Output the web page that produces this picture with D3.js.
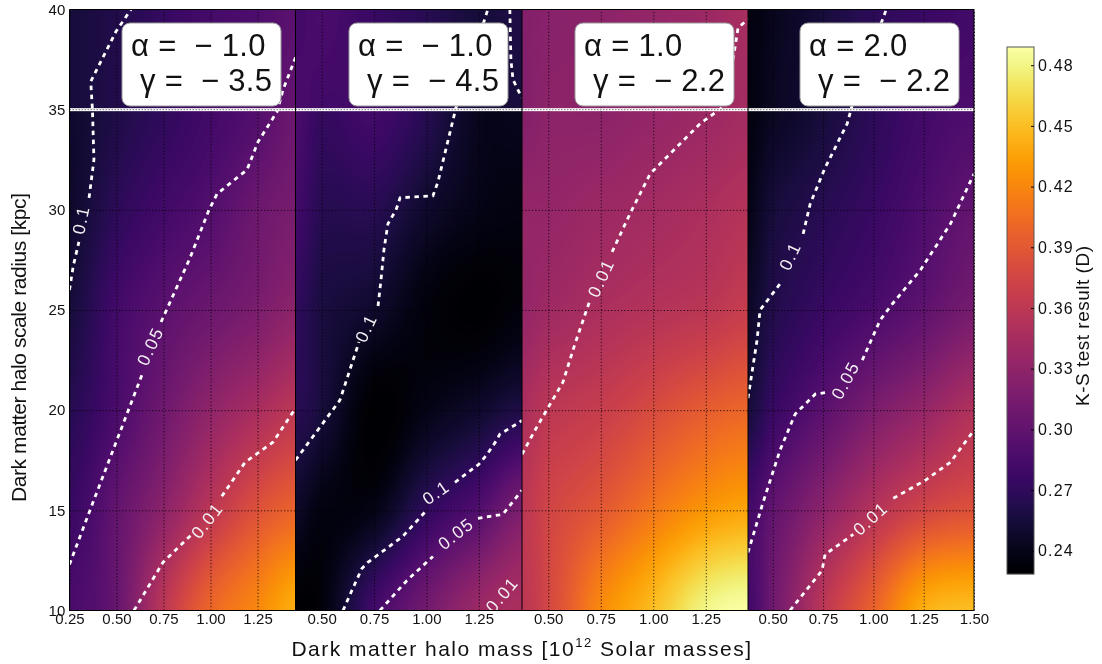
<!DOCTYPE html>
<html><head><meta charset="utf-8">
<script src="https://cdn.jsdelivr.net/npm/d3@7"></script>
<style>
html,body{margin:0;padding:0;background:#fff;overflow:hidden}
#wrap{position:relative;width:1102px;height:664px}
canvas,svg{position:absolute;left:0;top:0}
text{font-family:"Liberation Sans",Arial,sans-serif;fill:#111}
</style></head><body><div id="wrap"><canvas id="c" width="1102" height="664"></canvas><svg id="s" width="1102" height="664"></svg></div>
<script>
const radiusRows=[10,15,20,25,30,35];
const upperRows=[35,40];
const columnsA=[0.25,0.5,0.75,1,1.25,1.45];
const columnsB=[0.375,0.5,0.75,1,1.25,1.45];
const columnsD=[0.377,0.5,0.75,1,1.25,1.5];
const valuesA=[[.286,.304,.359,.400,.421,.442],[.275,.301,.328,.359,.385,.398],[.265,.286,.309,.330,.346,.359],[.255,.281,.296,.307,.317,.328],[.249,.268,.281,.291,.307,.315],[.249,.260,.270,.281,.291,.307]];
const upperA=[[.255,.262,.273,.283,.291,.301],[.255,.262,.273,.283,.288,.296]];
const valuesB=[[.2285,.234,.281,.312,.338,.348],[.247,.236,.239,.270,.291,.317],[.265,.255,.2285,.239,.249,.260],[.270,.257,.249,.234,.2285,.234],[.281,.265,.265,.249,.239,.236],[.286,.273,.281,.265,.242,.242]];
const upperB=[[.286,.281,.281,.268,.255,.255],[.281,.286,.275,.265,.255,.260]];
const valuesC=[[.359,.377,.422,.450,.481,.489],[.359,.374,.390,.411,.429,.437],[.348,.359,.367,.380,.393,.400],[.333,.340,.348,.354,.359,.367],[.333,.333,.338,.343,.348,.354],[.322,.328,.328,.333,.338,.343]];
const upperC=[[.322,.328,.328,.333,.338,.343],[.322,.325,.328,.333,.338,.346]];
const valuesD=[[.281,.310,.359,.398,.442,.450],[.281,.301,.328,.354,.375,.385],[.255,.275,.296,.317,.333,.351],[.247,.262,.275,.286,.299,.314],[.239,.255,.265,.275,.288,.301],[.236,.244,.255,.268,.281,.288]];
const upperD=[[.236,.244,.255,.268,.281,.288],[.236,.242,.255,.268,.275,.281]];
const tickA=[0.25,0.5,0.75,1,1.25];
const tickB=[0.5,0.75,1,1.25];
const tickD=[0.5,0.75,1,1.25,1.5];
const radiusTicks=[10,15,20,25,30,35,40];
const barTicks=[0.24,0.27,0.30,0.33,0.36,0.39,0.42,0.45,0.48];
const linesA=[
 [[.25,26],[.27,27.2],[.30,28.4]],
 [[.354,30.6],[.38,32.5],[.372,35],[.363,36.4],[.497,38.9],[.577,40]],
 [[.25,12.3],[.375,15.4],[.641,21.9]],
 [[.737,24.4],[.891,27.6],[.992,30],[1.035,30.8],[1.194,32],[1.253,33.4],[1.354,34.9],[1.386,36],[1.452,37.6]],
 [[.593,10],[.747,12.4],[.9,13.8]],
 [[1.06,15.7],[1.184,17.4],[1.332,18.4],[1.452,20.1]]];
const linesB=[
 [[.375,17.5],[.587,20.5],[.678,23.4]],
 [[.769,25.2],[.783,26.5],[.797,28],[.816,29.3],[.855,30],[.874,30.6],[1.031,30.7],[1.055,31.4],[1.141,35.1],[1.293,40]],
 [[1.398,40],[1.403,37.5],[1.413,36.5],[1.455,35.6]],
 [[.602,10],[.644,11],[.692,12.1],[.72,12.4],[.887,13.7],[.992,14.9]],
 [[1.136,16.4],[1.25,17.3],[1.29,17.8],[1.335,18.5],[1.35,18.8],[1.445,19.4],[1.456,19.5]],
 [[.778,10],[.907,11.5],[1.031,12.7]],
 [[1.246,14.6],[1.365,14.8],[1.455,16]]];
const linesC=[
 [[.375,17.8],[.437,19],[.57,21.4],[.627,23.3],[.699,25.5]],
 [[.804,27.9],[.889,29.8],[.985,31.8],[1.223,34.3],[1.327,35.1],[1.38,37.5],[1.404,39.1],[1.451,39.5]]];
const linesD=[
 [[.377,20.6],[.422,23.5],[.437,25],[.536,26.3]],
 [[.651,28.8],[.686,30.3],[.76,32.1],[.87,34.3],[.91,35.8],[1.064,40]],
 [[.377,12.9],[.452,15.4],[.536,18],[.611,19.8],[.711,20.8],[.775,20.9]],
 [[.945,22.5],[1.034,24.5],[1.094,25.3],[1.234,27],[1.383,29.3],[1.5,31.8]],
 [[.586,10],[.745,12],[.76,12.8],[.9,13.8]],
 [[1.099,15.6],[1.258,16.5],[1.383,17.4],[1.5,19]]];
const labelsA=[["0.1",.31,29.5,-78],["0.05",.678,23.2,-65],["0.01",.98,14.5,-52]];
const labelsB=[["0.1",.711,24.1,-65],["0.1",1.045,15.9,-35],["0.05",1.14,13.85,-38],["0.01",1.36,10.8,-50]];
const labelsC=[["0.01",.75,26.6,-65]];
const labelsD=[["0.1",.585,27.7,-65],["0.05",.86,21.5,-62],["0.01",.985,14.6,-42]];
const alphaText=["α =  − 1.0","α =  − 1.0","α = 1.0","α = 2.0"];
const gammaText=["γ =  − 3.5","γ =  − 4.5","γ =  − 2.2","γ =  − 2.2"];

const T=9.5,B=610.5;
const y=d3.scaleLinear().domain([10,40]).range([B,T]);
const color=d3.scaleSequential([0.2285,0.489],d3.interpolateInferno);
const panels=[
 {x0:69.5,x1:295.5,dom:[.25,1.452],cols:columnsA,v:valuesA,u:upperA,ticks:tickA,lines:linesA,labels:labelsA,bx:122},
 {x0:295.5,x1:522,dom:[.375,1.456],cols:columnsB,v:valuesB,u:upperB,ticks:tickB,lines:linesB,labels:labelsB,bx:349},
 {x0:522,x1:748,dom:[.375,1.451],cols:columnsB,v:valuesC,u:upperC,ticks:tickB,lines:linesC,labels:labelsC,bx:575},
 {x0:748,x1:974,dom:[.377,1.5],cols:columnsD,v:valuesD,u:upperD,ticks:tickD,lines:linesD,labels:labelsD,bx:800}];
function cr(p0,p1,p2,p3,t){return 0.5*(2*p1+(p2-p0)*t+(2*p0-5*p1+4*p2-p3)*t*t+(3*p1-p0-3*p2+p3)*t*t*t);}
function sample(rows,cols,grid,xv,yv){
  const ix=d3.scaleLinear().domain(cols).range(d3.range(cols.length)).clamp(true)(xv);
  const iy=d3.scaleLinear().domain(rows).range(d3.range(rows.length)).clamp(true)(yv);
  const i=Math.min(Math.floor(ix),cols.length-2),j=Math.min(Math.floor(iy),rows.length-2),fx=ix-i,fy=iy-j;
  const g=(a,b)=>grid[Math.max(0,Math.min(rows.length-1,b))][Math.max(0,Math.min(cols.length-1,a))];
  const r=b=>cr(g(i-1,b),g(i,b),g(i+1,b),g(i+2,b),fx);
  return cr(r(j-1),r(j),r(j+1),r(j+2),fy);
}
const ctx=document.getElementById("c").getContext("2d");
ctx.fillStyle="#fff";ctx.fillRect(0,0,1102,664);
const svg=d3.select("#s");
const defs=svg.append("defs");
panels.forEach((p,n)=>{
  p.x=d3.scaleLinear().domain(p.dom).range([p.x0,p.x1]);
  const a=Math.ceil(p.x0),b=Math.ceil(p.x1),t=Math.ceil(T),h=Math.ceil(B)-t;
  const img=ctx.createImageData(b-a,h);
  for(let py=0;py<h;py++)for(let px=0;px<b-a;px++){
    const xv=p.x.invert(a+px+.5),yv=y.invert(t+py+.5);
    const val=yv>35?sample(upperRows,p.cols,p.u,xv,yv):sample(radiusRows,p.cols,p.v,xv,yv);
    const c=d3.rgb(color(val));const k=(py*(b-a)+px)*4;
    img.data[k]=c.r;img.data[k+1]=c.g;img.data[k+2]=c.b;img.data[k+3]=255;
  }
  ctx.putImageData(img,a,t);
  defs.append("clipPath").attr("id","clip"+n).append("rect").attr("x",p.x0).attr("y",T).attr("width",p.x1-p.x0).attr("height",B-T);
  const gr=svg.append("g");
  const ax=gr.append("g").attr("transform",`translate(0,${B})`).call(d3.axisBottom(p.x).tickValues(p.ticks).tickFormat(d3.format(".2f")).tickSize(-(B-T)).tickPadding(3));
  ax.select(".domain").remove();
  ax.selectAll("line").attr("stroke","#000").attr("stroke-width",1).attr("stroke-dasharray","1.2 2.1").attr("opacity",.8);
  ax.selectAll("text").attr("font-size",15).attr("letter-spacing",".1px").attr("fill","#222").attr("font-family",'"Liberation Sans"');
  const ay=gr.append("g").attr("transform",`translate(${p.x0},0)`).call(d3.axisLeft(y).tickValues(radiusTicks.filter(d=>d>10&&d<40&&d!=35)).tickSize(-(p.x1-p.x0)).tickFormat(""));
  ay.select(".domain").remove();
  ay.selectAll("line").attr("stroke","#000").attr("stroke-width",1).attr("stroke-dasharray","1.2 2.1").attr("opacity",.8);
  const cg=svg.append("g").attr("clip-path",`url(#clip${n})`);
  const line=d3.line().x(d=>p.x(d[0])).y(d=>y(d[1]));
  cg.selectAll("path").data(p.lines).join("path").attr("d",line).attr("fill","none").attr("stroke","#fff").attr("stroke-width",2.8).attr("stroke-dasharray","4.5 4.5");
  cg.selectAll("text").data(p.labels).join("text").text(d=>d[0])
    .attr("transform",d=>`translate(${p.x(d[1])},${y(d[2])}) rotate(${d[3]})`)
    .attr("text-anchor","middle").attr("dy","0.36em").attr("font-size",17.5).attr("letter-spacing","1.5px").style("fill","#f4f0f4");
  svg.append("rect").attr("x",p.x0).attr("width",p.x1-p.x0).attr("y",y(35)-1.5).attr("height",3).attr("fill","#fff");
  svg.append("line").attr("x1",p.x0).attr("x2",p.x1).attr("y1",y(35)).attr("y2",y(35)).attr("stroke","#777").attr("stroke-width",1).attr("stroke-dasharray","1.5 1.5");
  svg.append("rect").attr("x",p.bx).attr("y",23).attr("width",159).attr("height",83).attr("rx",8).attr("fill","#fff").attr("stroke","#999").attr("stroke-width",1);
  svg.append("text").attr("x",p.bx+9).attr("y",56).attr("font-size",31).attr("letter-spacing",".3px").style("white-space","pre").text(alphaText[n]);
  svg.append("text").attr("x",p.bx+18).attr("y",91).attr("font-size",31).attr("letter-spacing",".3px").style("white-space","pre").text(gammaText[n]);
});
svg.append("path").attr("d",`M${panels[0].x0},${B}V${T}H974`).attr("fill","none").attr("stroke","#000");
panels.forEach(p=>svg.append("line").attr("x1",p.x1).attr("x2",p.x1).attr("y1",T).attr("y2",B).attr("stroke","#000"));
svg.append("line").attr("x1",69).attr("x2",974).attr("y1",B).attr("y2",B).attr("stroke","#000");
const yl=svg.append("g").attr("transform","translate(69.5,0)").call(d3.axisLeft(y).tickValues(radiusTicks).tickSize(0).tickPadding(4));
yl.select(".domain").remove();
yl.selectAll("text").attr("font-size",15).attr("letter-spacing",".1px").attr("font-family",'"Liberation Sans"').attr("fill","#222");
const xt=svg.append("text").attr("x",522).attr("y",656).attr("text-anchor","middle").attr("font-size",21).attr("letter-spacing","1.5px");
xt.append("tspan").text("Dark matter halo mass [10");
xt.append("tspan").attr("font-size",13).attr("dy",-9).text("12");
xt.append("tspan").attr("dy",9).text(" Solar masses]");
svg.append("text").attr("transform","translate(26,347.5) rotate(-90)").attr("text-anchor","middle").attr("font-size",21).attr("textLength",309).text("Dark matter halo scale radius [kpc]");
const barY=d3.scaleLinear().domain([0.2285,0.489]).range([574,47]);
const steps=d3.range(47,574);
svg.append("g").selectAll("rect").data(steps).join("rect").attr("x",1007).attr("width",27).attr("y",d=>d).attr("height",1.2).attr("fill",d=>color(barY.invert(d+.5)));
svg.append("rect").attr("x",1007).attr("y",47).attr("width",27).attr("height",527).attr("fill","none").attr("stroke","#555");
const bar=svg.append("g").attr("transform","translate(1034,0)").call(d3.axisRight(barY).tickValues(barTicks).tickFormat(d3.format(".2f")).tickSize(-3).tickPadding(4));
bar.select(".domain").remove();
bar.selectAll("line").attr("stroke","#000");
bar.selectAll("text").attr("font-size",16).attr("letter-spacing","1.2px").attr("font-family",'"Liberation Sans"').attr("fill","#222");
svg.append("text").attr("transform","translate(1089,326) rotate(-90)").attr("text-anchor","middle").attr("font-size",19).attr("textLength",160).text("K-S test result (D)");
</script></body></html>
